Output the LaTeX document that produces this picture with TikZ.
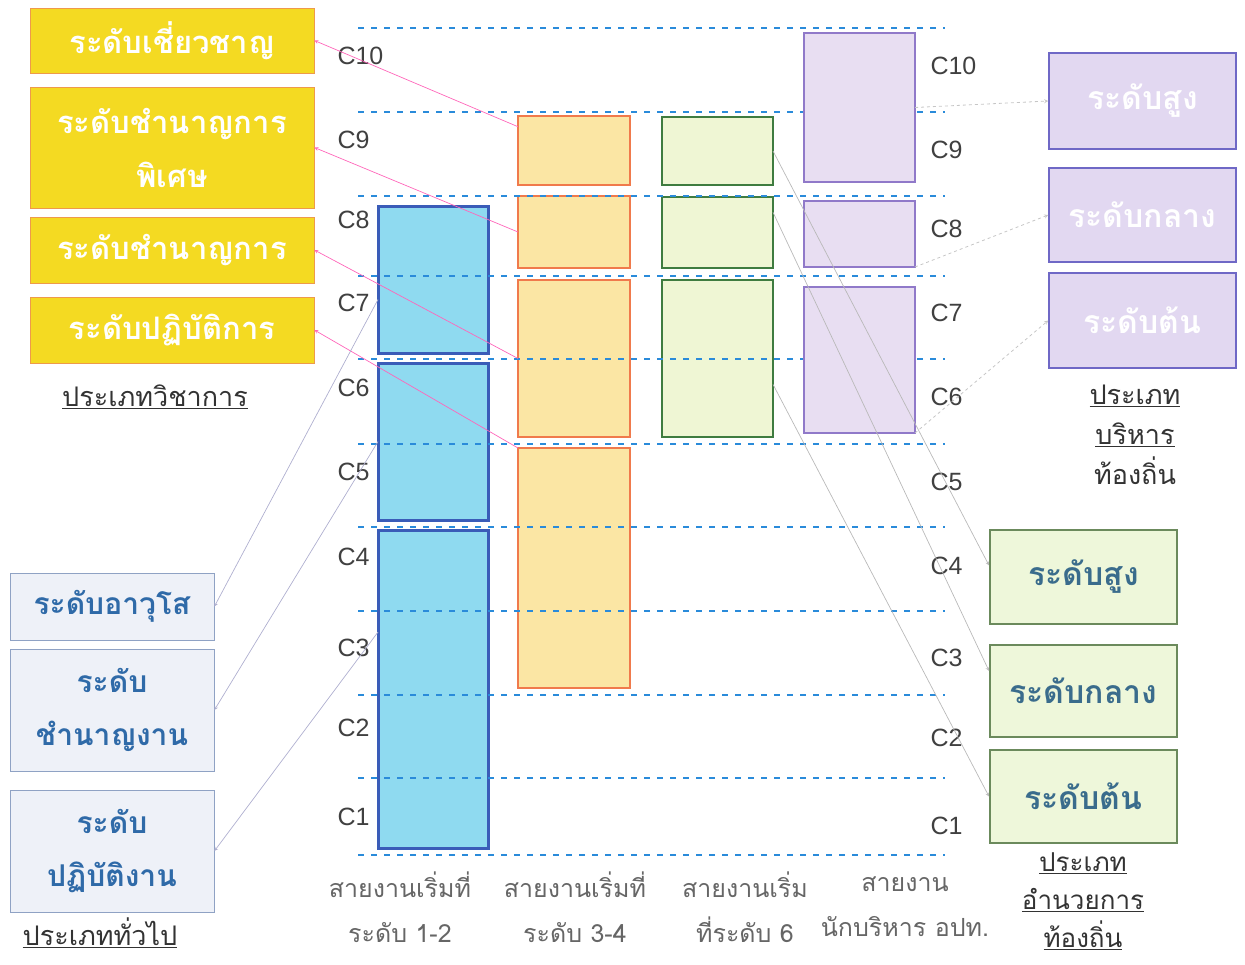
\documentclass[tikz,border=0pt]{standalone}
\usepackage{fontspec}
\setmainfont[Script=Thai]{Loma}
\newfontfamily\lvlfont{Liberation Sans}
\usepackage{xcolor}
\usepackage{tikz}
\usetikzlibrary{arrows,shapes}

\definecolor{acadfill}{HTML}{F4DA22}
\definecolor{acadline}{HTML}{EE9A4A}
\definecolor{genfill}{HTML}{EEF1F8}
\definecolor{genline}{HTML}{8FA2C4}
\definecolor{gentext}{HTML}{2F6AA8}
\definecolor{execfill}{HTML}{E2D8F1}
\definecolor{execline}{HTML}{6F68C6}
\definecolor{dirfill}{HTML}{EEF7DA}
\definecolor{dirline}{HTML}{6B8A5C}
\definecolor{dirtext}{HTML}{3A6C8C}
\definecolor{blufill}{HTML}{8FDAF0}
\definecolor{bluline}{HTML}{3A5CB8}
\definecolor{orgfill}{HTML}{FBE6A4}
\definecolor{orgline}{HTML}{F07A4C}
\definecolor{grnfill}{HTML}{EFF6D4}
\definecolor{grnline}{HTML}{3F7C40}
\definecolor{purfill}{HTML}{E8DEF2}
\definecolor{purline}{HTML}{9079C9}
\definecolor{dashblue}{HTML}{2A8BDA}

\begin{document}
\begin{tikzpicture}[x=1pt,y=-1pt,>=stealth,
    colbox/.style={draw, rectangle, inner sep=0pt, outer sep=0pt, anchor=north west},
    blubox/.style={colbox, fill=blufill, draw=bluline, line width=3pt, minimum width=110pt},
    orgbox/.style={colbox, fill=orgfill, draw=orgline, line width=1.5pt, minimum width=112pt},
    grnbox/.style={colbox, fill=grnfill, draw=grnline, line width=2pt, minimum width=111pt},
    purbox/.style={colbox, fill=purfill, draw=purline, line width=1.5pt, minimum width=111pt},
    acad/.style={draw=acadline, fill=acadfill, text=white, line width=0.8pt, align=center,
        minimum width=284pt, font=\fontsize{31}{54}\selectfont\bfseries},
    gen/.style={draw=genline, fill=genfill, text=gentext, line width=0.8pt, align=center,
        minimum width=204pt, font=\fontsize{30}{53}\selectfont\bfseries},
    exec/.style={draw=execline, fill=execfill, text=white, line width=1.5pt,
        minimum width=187pt, font=\fontsize{32}{32}\selectfont\bfseries},
    dirc/.style={draw=dirline, fill=dirfill, text=dirtext, line width=2pt,
        minimum width=187pt, font=\fontsize{32}{32}\selectfont\bfseries},
    grplabel/.style={align=center, text=black!80, font=\fontsize{27}{40}\selectfont},
    colname/.style={align=center, text=black!60, font=\fontsize{25}{45}\selectfont},
    lvl/.style={anchor=west, text=black!75, font=\lvlfont\fontsize{25}{25}\selectfont},
    lvlline/.style={dashblue, dashed, line width=2pt, dash pattern=on 6pt off 7pt},
    acadlink/.style={->, draw=red!45!magenta!60, line width=0.7pt},
    genlink/.style={->, draw=blue!25!gray!50, line width=0.7pt},
    dirlink/.style={->, draw=gray!55, line width=0.7pt},
    execlink/.style={->, draw=gray!45, line width=0.8pt, dashed}]
  \useasboundingbox (0,0) rectangle (1245,964);

  % columns
  \node[blubox, minimum height=147pt] (b78) at (378,206) {};
  \node[blubox, minimum height=157pt] (b56) at (378,363) {};
  \node[blubox, minimum height=318pt] (b14) at (378,530) {};
  \node[orgbox, minimum height=69pt] (o9) at (518,116) {};
  \node[orgbox, minimum height=72pt] (o8) at (518,196) {};
  \node[orgbox, minimum height=157pt] (o67) at (518,280) {};
  \node[orgbox, minimum height=240pt] (o35) at (518,448) {};
  \node[grnbox, minimum height=68pt] (g9) at (662,117) {};
  \node[grnbox, minimum height=71pt] (g8) at (662,197) {};
  \node[grnbox, minimum height=157pt] (g67) at (662,280) {};

  \foreach \y in {28,112,196,276,359,444,527,611,695,778,855}
    \draw[lvlline] (358,\y) -- (945,\y);

  \node[purbox, minimum height=149pt] (p910) at (804,33) {};
  \node[purbox, minimum height=66pt] (p8) at (804,201) {};
  \node[purbox, minimum height=146pt] (p67) at (804,287) {};

  \foreach \n/\ya/\yb in {10/56/66,9/140/150,8/220/229,7/303/313,6/388/397,
      5/472/482,4/557/566,3/648/658,2/728/738,1/817/826}{
    \node[lvl] (l\n) at (334,\ya) {C\n};
    \node[lvl] (r\n) at (927,\yb) {C\n};
  }

  % academic
  \node[acad, minimum height=65pt] (a1) at (172,40.5) {ระดับเชี่ยวชาญ};
  \node[acad, minimum height=121pt] (a2) at (172,147.5) {ระดับชำนาญการ\\พิเศษ};
  \node[acad, minimum height=66pt] (a3) at (172,250) {ระดับชำนาญการ};
  \node[acad, minimum height=66pt] (a4) at (172,330) {ระดับปฏิบัติการ};
  \node[grplabel] (acadname) at (155,397) {\underline{ประเภทวิชาการ}};

  % general
  \node[gen, minimum height=67pt] (t1) at (112,606.5) {ระดับอาวุโส};
  \node[gen, minimum height=122pt] (t2) at (112,710) {ระดับ\\ชำนาญงาน};
  \node[gen, minimum height=122pt] (t3) at (112,851) {ระดับ\\ปฏิบัติงาน};
  \node[grplabel] (genname) at (100,933) {\underline{ประเภททั่วไป}};

  % executive
  \node[exec, minimum height=96pt] (e1) at (1142.5,101) {ระดับสูง};
  \node[exec, minimum height=94pt] (e2) at (1142.5,215) {ระดับกลาง};
  \node[exec, minimum height=95pt] (e3) at (1142.5,320.5) {ระดับต้น};
  \node[grplabel] (execname) at (1135,435) {\underline{ประเภท}\\\underline{บริหาร}\\ท้องถิ่น};

  % director
  \node[dirc, minimum height=94pt] (d1) at (1083.5,577) {ระดับสูง};
  \node[dirc, minimum height=92pt] (d2) at (1083.5,691) {ระดับกลาง};
  \node[dirc, minimum height=93pt] (d3) at (1083.5,796.5) {ระดับต้น};
  \node[grplabel, font=\fontsize{26}{38}\selectfont] (dirname) at (1083,901) {\underline{ประเภท}\\\underline{อำนวยการ}\\\underline{ท้องถิ่น}};

  \node[colname] (c12) at (400,907) {สายงานเริ่มที่\\ระดับ 1-2};
  \node[colname] (c34) at (575,907) {สายงานเริ่มที่\\ระดับ 3-4};
  \node[colname] (c6) at (745,907) {สายงานเริ่ม\\ที่ระดับ 6};
  \node[colname] (cx) at (905,907) {สายงาน\\นักบริหาร อปท.};

  \draw[acadlink] (o9.157) -- (a1.east);
  \draw[acadlink] (o8.west) -- (a2.east);
  \draw[acadlink] (o67.west) -- (a3.east);
  \draw[acadlink] (o35.north west) -- (a4.east);
  \draw[genlink] (b78.200) -- (t1.east);
  \draw[genlink] (b56.west) -- (t2.east);
  \draw[genlink] (b14.134) -- (t3.east);
  \draw[dirlink] (g9.east) -- (d1.173);
  \draw[dirlink] (g8.20) -- (d2.168);
  \draw[dirlink] (g67.-25) -- (d3.west);
  \draw[execlink] (p910.east) -- (e1.west);
  \draw[execlink] (p8.south east) -- (e2.west);
  \draw[execlink] (p67.south east) -- (e3.west);
\end{tikzpicture}
\end{document}
